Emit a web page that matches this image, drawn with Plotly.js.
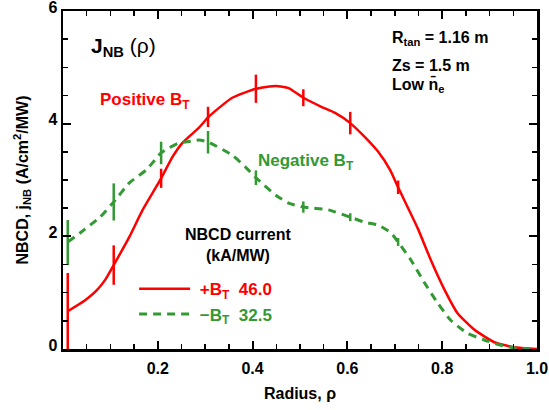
<!DOCTYPE html>
<html>
<head>
<meta charset="utf-8">
<script src="https://cdn.plot.ly/plotly-3.0.1.min.js"></script>
<style>html,body{margin:0;padding:0;background:#fff;}</style>
</head>
<body>
<div id="chart" style="width:549px;height:410px;"></div>
<script>
// Positive B_T profile (solid red)
var rhoPos = [0.01,0.046,0.071,0.09,0.107,0.14,0.168,0.207,0.231,0.252,0.287,0.307,0.357,0.407,0.449,0.476,0.507,0.545,0.574,0.606,0.637,0.665,0.69,0.707,0.748,0.776,0.805,0.832,0.868,0.91,0.952,1.0];
var jPos   = [0.67,0.86,1.04,1.24,1.49,1.99,2.47,3.03,3.41,3.66,3.93,4.12,4.46,4.62,4.67,4.63,4.46,4.30,4.19,4.01,3.76,3.50,3.18,2.87,2.15,1.58,1.05,0.64,0.34,0.12,0.03,0.0];
// Negative B_T profile (dashed green)
var rhoNeg = [0.01,0.036,0.078,0.107,0.14,0.176,0.207,0.245,0.273,0.287,0.307,0.357,0.385,0.407,0.449,0.476,0.507,0.56,0.606,0.637,0.665,0.692,0.707,0.734,0.763,0.79,0.818,0.853,0.889,0.922,0.952,1.0];
var jNeg   = [1.90,2.06,2.34,2.61,2.95,3.18,3.48,3.66,3.69,3.71,3.67,3.44,3.23,3.04,2.73,2.59,2.52,2.47,2.34,2.25,2.20,2.06,1.90,1.58,1.17,0.82,0.51,0.28,0.16,0.07,0.02,0.0];
// Error bar locations and half-widths
var errRho    = [0.01,0.107,0.207,0.306,0.407,0.507,0.606,0.707];
var errPosVal = [0.67,1.49,3.03,4.12,4.62,4.46,4.01,2.87];
var errPosBar = [0.68,0.35,0.17,0.18,0.25,0.15,0.20,0.12];
var errNegVal = [1.89,2.61,3.48,3.67,3.04,2.52,2.34,1.90];
var errNegBar = [0.40,0.33,0.20,0.20,0.13,0.10,0.07,0.07];
// Legend / tick labels
var posName = '&nbsp;+B<sub>T</sub>  46.0';
var negName = '&nbsp;\u2212B<sub>T</sub>  32.5';
var xTicks = [0.2,0.4,0.6,0.8,1.0];
var yTicks = [0,2,4,6];

var RED = '#ff0000';
var GREEN = '#339933';
var FONT = 'Liberation Sans, Arial, sans-serif';

var traces = [
  {x: rhoPos, y: jPos, mode: 'lines', name: '<span style="color:' + RED + '">' + posName + '</span>',
   line: {color: RED, width: 2.5, shape: 'spline', smoothing: 0.5}, legendgroup: 'a'},
  {x: errRho, y: errPosVal, mode: 'markers', showlegend: false, marker: {opacity: 0},
   error_y: {type: 'data', array: errPosBar, visible: true, color: RED, thickness: 2.5, width: 0}},
  {x: rhoNeg, y: jNeg, mode: 'lines', name: '<span style="color:' + GREEN + '">' + negName + '</span>',
   line: {color: GREEN, width: 3, dash: '8px,6px', shape: 'spline', smoothing: 0.5}, legendgroup: 'b'},
  {x: errRho, y: errNegVal, mode: 'markers', showlegend: false, marker: {opacity: 0},
   error_y: {type: 'data', array: errNegBar, visible: true, color: GREEN, thickness: 2.5, width: 0}}
];

var axisCommon = {
  showgrid: false, zeroline: false, showline: true, linecolor: '#000', linewidth: 2.5,
  ticks: 'inside', ticklen: 8, tickwidth: 2, tickcolor: '#000', mirror: 'allticks',
  ticklabeloverflow: 'allow',
  tickfont: {family: FONT, size: 16, color: '#000', weight: 'bold'}
};

var layout = {
  width: 549, height: 410,
  margin: {l: 63, r: 12, t: 11, b: 61, pad: 0},
  paper_bgcolor: '#fff', plot_bgcolor: '#fff',
  font: {family: FONT, color: '#000'},
  xaxis: Object.assign({}, axisCommon, {
    range: [0, 1.0], tickvals: xTicks, tickformat: '.1f', ticklabelstandoff: 3,
    minor: {dtick: 0.05, tick0: 0, ticks: 'inside', ticklen: 5, tickwidth: 1.5, tickcolor: '#000'},
    title: {text: '<b>Radius, \u03c1</b>', font: {family: FONT, size: 16, color: '#000'}, standoff: 12}
  }),
  yaxis: Object.assign({}, axisCommon, {
    range: [0, 6], tickvals: yTicks, ticklabelshift: -4,
    minor: {dtick: 0.5, tick0: 0, ticks: 'inside', ticklen: 5, tickwidth: 1.5, tickcolor: '#000'},
    title: {text: '<b>NBCD, j<sub>NB</sub> (A/cm<sup>2</sup>/MW)</b>', font: {family: FONT, size: 16, color: '#000'}, standoff: 16}
  }),
  showlegend: true,
  legend: {
    x: 0.15, xanchor: 'left', y: 0.23, yanchor: 'top',
    bgcolor: 'rgba(0,0,0,0)', borderwidth: 0,
    font: {family: FONT, size: 17, weight: 'bold'},
    itemwidth: 51, tracegroupgap: 0
  },
  annotations: [
    {xref: 'paper', yref: 'paper', x: 0.128, y: 0.893, xanchor: 'center', yanchor: 'middle', showarrow: false,
     text: '<b>J<sub>NB</sub></b> (\u03c1)', font: {family: FONT, size: 21, color: '#000'}},
    {xref: 'paper', yref: 'paper', x: 0.690, y: 0.920, xanchor: 'left', yanchor: 'middle', showarrow: false,
     text: '<b>R<sub>tan</sub> = 1.16 m</b>', font: {family: FONT, size: 16, color: '#000'}},
    {xref: 'paper', yref: 'paper', x: 0.690, y: 0.840, xanchor: 'left', yanchor: 'middle', showarrow: false,
     text: '<b>Zs = 1.5 m</b>', font: {family: FONT, size: 16, color: '#000'}},
    {xref: 'paper', yref: 'paper', x: 0.690, y: 0.780, xanchor: 'left', yanchor: 'middle', showarrow: false,
     text: '<b>Low n\u0304<sub>e</sub></b>', font: {family: FONT, size: 16, color: '#000'}},
    {xref: 'paper', yref: 'paper', x: 0.073, y: 0.735, xanchor: 'left', yanchor: 'middle', showarrow: false,
     text: '<b>Positive B<sub>T</sub></b>', font: {family: FONT, size: 17, color: RED}},
    {xref: 'paper', yref: 'paper', x: 0.407, y: 0.553, xanchor: 'left', yanchor: 'middle', showarrow: false,
     text: '<b>Negative B<sub>T</sub></b>', font: {family: FONT, size: 17, color: GREEN}},
    {xref: 'paper', yref: 'paper', x: 0.370, y: 0.307, xanchor: 'center', yanchor: 'middle', showarrow: false,
     text: '<b>NBCD current<br>(kA/MW)</b>', font: {family: FONT, size: 16, color: '#000'}}
  ]
};

Plotly.newPlot('chart', traces, layout, {displayModeBar: false, staticPlot: true});
</script>
</body>
</html>
